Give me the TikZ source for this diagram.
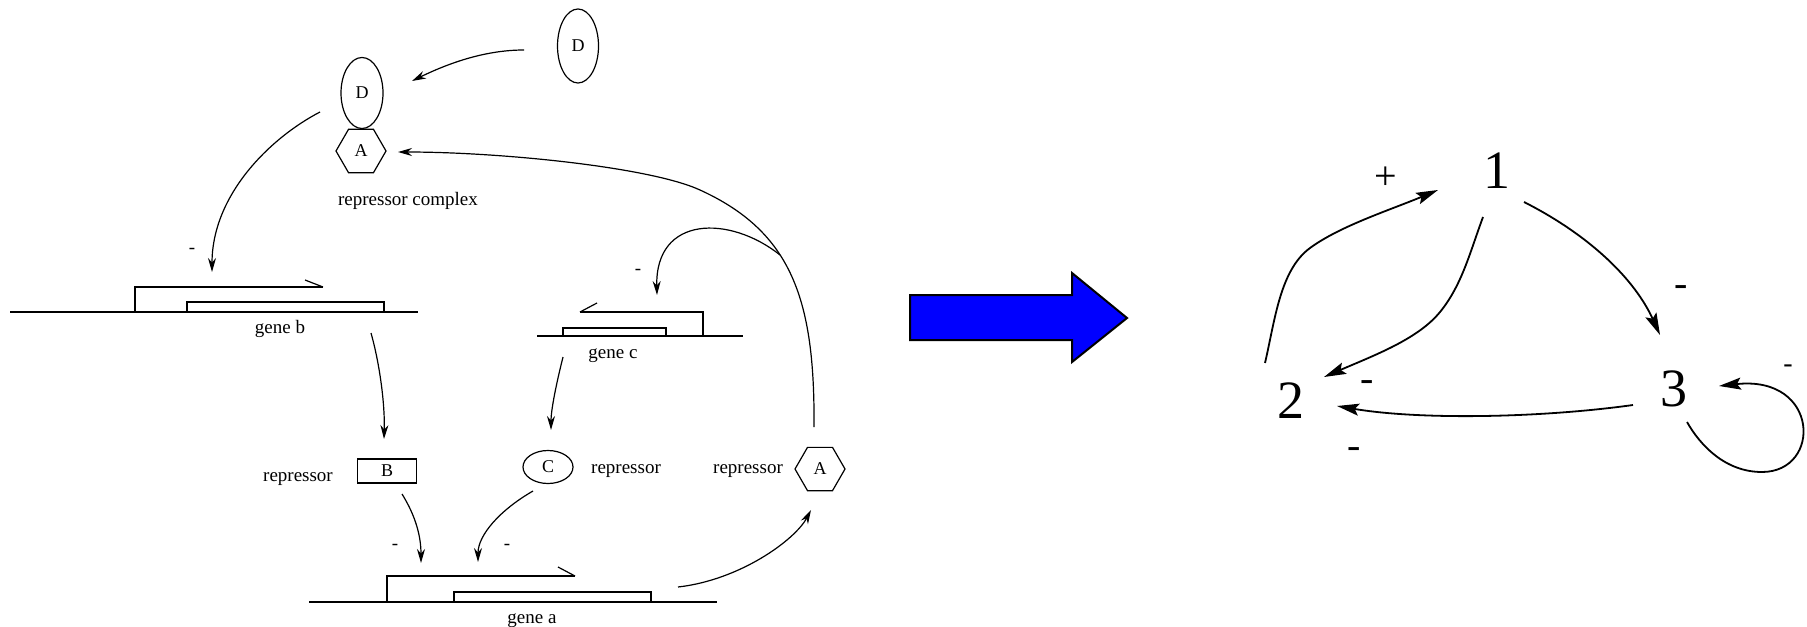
\documentclass[tikz,border=0pt]{standalone}
\usepackage{fontspec}
\setmainfont{Liberation Serif}
\usetikzlibrary{arrows.meta,shapes.geometric,calc}
\begin{document}
\begin{tikzpicture}[x=0.5pt,y=-0.5pt,
  mol/.style={draw, line width=0.6pt, inner sep=0pt, font=\fontsize{9}{10}\selectfont},
  ell/.style={mol, ellipse},
  hex/.style={mol, regular polygon, regular polygon sides=6, minimum size=25pt},
  lab/.style={inner sep=0pt, anchor=base, font=\fontsize{9.5}{11}\selectfont},
  lsign/.style={inner sep=0pt, font=\fontsize{9.5}{11}\selectfont},
  num/.style={inner sep=0pt, font=\fontsize{27}{30}\selectfont},
  rsign/.style={inner sep=0pt, font=\fontsize{20}{22}\selectfont},
  larr/.style={-{Stealth[length=7pt,width=4pt]}, line width=0.6pt},
  rarr/.style={-{Stealth[length=11pt,width=6pt,inset=2pt]}, line width=0.9pt},
  gline/.style={line width=0.9pt},
  gthin/.style={line width=0.6pt}]
\useasboundingbox (0,0) rectangle (1807,626);

% ---------- left: molecules ----------
\node[ell, minimum width=20.5pt, minimum height=37pt] (dfree) at (578,46) {D};
\node[ell, minimum width=21pt, minimum height=35.5pt] (dcx) at (362,93) {D};
\node[hex] (acx) at (361,151) {A};
\node[lab] (rc) at (408,205) {repressor complex};
\node[mol, rectangle, minimum width=29.5pt, minimum height=12pt] (bbox) at (387,471) {B};
\node[lab] (brep) at (298,481) {repressor};
\node[ell, minimum width=25pt, minimum height=16.5pt] (cell) at (548,467) {C};
\node[lab] (crep) at (626,473) {repressor};
\node[lab] (arep) at (748,473) {repressor};
\node[hex] (abot) at (820,469) {A};

% ---------- genes ----------
% gene b
\draw[gline] (10,312) -- (418,312);
\draw[gthin] (135,312) -- (135,287) -- (323,287);
\draw[gthin] (305,280) -- (323,287);
\draw[gthin] (187,302) rectangle (384,312);
\node[lab] (gbl) at (280,333) {gene b};
% gene c
\draw[gline] (537,336) -- (743,336);
\draw[gthin] (703,336) -- (703,312) -- (580,312);
\draw[gthin] (597,303) -- (580,312);
\draw[gthin] (563,328) rectangle (666,336);
\node[lab] (gcl) at (613,358) {gene c};
% gene a
\draw[gline] (309,602) -- (717,602);
\draw[gthin] (387,602) -- (387,576) -- (575,576);
\draw[gthin] (558,567) -- (575,576);
\draw[gthin] (454,592) rectangle (651,602);
\node[lab] (gal) at (532,623) {gene a};

\coordinate (gbin) at (212,272);
\coordinate (gbout) at (371,333);
\coordinate (gcin) at (657,295);
\coordinate (gcout) at (563,357);
\coordinate (gain1) at (421,563);
\coordinate (gain2) at (478,562);
\coordinate (gaout) at (678,587);
\coordinate (mid) at (700,190);
\coordinate (br) at (780,255);

% ---------- left: connectors ----------
\draw[larr] ($(dfree)+(-54,4)$) .. controls (490,50) and (455,60) .. ($(dcx)+(50,-12)$);
\draw[larr] ($(dcx)+(-42,19)$) .. controls (270,138) and (212,195) .. (gbin);
\draw[larr] (gbout) .. controls (380,365) and (385,405) .. ($(bbox)+(-3,-32)$);
\draw[larr] ($(bbox)+(15,23)$) .. controls (415,515) and (421,535) .. (gain1);
\draw[larr] (gcout) .. controls (556,385) and (551,410) .. ($(cell)+(3,-37)$);
\draw[larr] ($(cell)+(-15,24)$) .. controls (500,510) and (478,535) .. (gain2);
\draw[larr] (gaout) .. controls (740,580) and (795,540) .. ($(abot)+(-9,41)$);
\draw[larr] ($(abot)+(-6,-42)$) .. controls (815,300) and (792,232) .. (mid)
   .. controls (650,167) and (500,152) .. ($(acx)+(37,1)$);
\draw[larr] (br) .. controls (730,215) and (655,215) .. (gcin);

\node[lsign] (m1) at (192,251) {-};
\node[lsign] (m2) at (638,272) {-};
\node[lsign] (m3) at (395,547) {-};
\node[lsign] (m4) at (507,547) {-};

% ---------- blue arrow ----------
\filldraw[fill=blue, draw=black, line width=1pt]
  (910,295) -- (1072,295) -- (1072,273) -- (1127,318) -- (1072,362) -- (1072,340) -- (910,340) -- cycle;

% ---------- right graph ----------
\node[num] (n1) at (1497,171) {1};
\node[num] (n2) at (1291,401) {2};
\node[num] (n3) at (1674,389) {3};
\coordinate (k1) at (1310,248);
\coordinate (k2) at (1440,312);
\coordinate (k3) at (1762,472);

\draw[rarr] ($(n2)+(-26,-38)$) .. controls (1275,320) and (1280,270) .. (k1)
   .. controls (1340,226) and (1390,210) .. ($(n1)+(-59,19)$);
\draw[rarr] ($(n1)+(-14,46)$) .. controls (1470,252) and (1462,285) .. (k2)
   .. controls (1418,339) and (1375,355) .. ($(n2)+(33,-24)$);
\draw[rarr] ($(n1)+(27,31)$) .. controls (1591,236) and (1635,280) .. ($(n3)+(-14,-54)$);
\draw[rarr] ($(n3)+(-41,16)$) .. controls (1540,418) and (1420,420) .. ($(n2)+(46,5)$);
\draw[rarr] ($(n3)+(13,33)$) .. controls (1700,445) and (1725,472) .. (k3)
   .. controls (1822,472) and (1820,375) .. ($(n3)+(45,-3)$);

\node[rsign] (pl) at (1386,178) {+};
\node[rsign] (s1) at (1681,291) {-};
\node[rsign] (s2) at (1367,386) {-};
\node[rsign] (s3) at (1354,453) {-};
\node[inner sep=0pt, font=\fontsize{14}{16}\selectfont] (s4) at (1788,369) {-};
\end{tikzpicture}
\end{document}
